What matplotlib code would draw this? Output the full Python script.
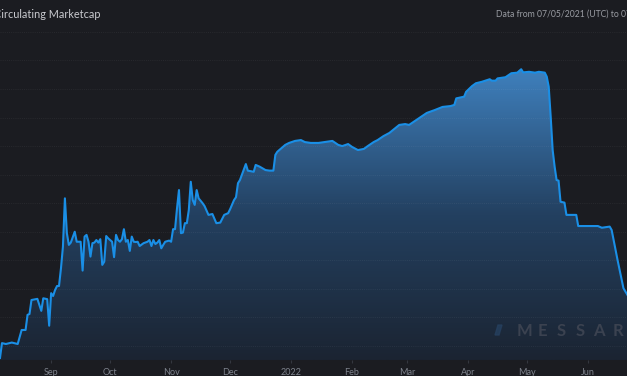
import numpy as np
import pandas as pd
import matplotlib
matplotlib.use("Agg")
import matplotlib.pyplot as plt
import matplotlib.dates as mdates
from matplotlib.colors import LinearSegmentedColormap
from matplotlib.patches import Polygon

# circulating marketcap ($M), sampled days after the first visible date
start = pd.Timestamp("2021-08-06")
days = [0, 1, 3, 6, 9, 11, 13, 14, 15, 16, 19, 21, 22, 24, 25, 26, 27, 28, 29, 30,
        31, 32, 33, 34, 35, 36, 38, 39, 41, 42, 43, 44, 45, 46, 47, 48, 49, 50, 51, 52,
        53, 54, 55, 57, 58, 59, 60, 61, 62, 63, 64, 65, 66, 67, 68, 69, 70, 71, 73, 75,
        76, 77, 78, 79, 80, 81, 82, 83, 84, 86, 87, 88, 89, 90, 91, 92, 93, 94, 95, 96,
        97, 98, 99, 100, 101, 103, 104, 106, 108, 110, 112, 114, 116, 117, 119, 120, 121, 122, 125, 126,
        129, 130, 132, 135, 137, 139, 140, 141, 142, 145, 147, 150, 153, 155, 158, 162, 165, 169, 172, 174,
        177, 179, 182, 185, 187, 190, 192, 195, 198, 201, 203, 206, 208, 211, 214, 217, 221, 225, 229, 231,
        232, 236, 237, 240, 242, 245, 249, 250, 252, 253, 257, 260, 263, 265, 266, 269, 272, 274, 277, 278,
        279, 280, 281, 282, 283, 284, 285, 287, 288, 293, 294, 304, 306, 310, 311, 314, 317, 319]
mcap = [5.8, 11.0, 10.7, 11.2, 10.7, 15.6, 15.6, 20.9, 21.2, 26.1, 26.5, 22.3, 26.7, 26.4, 17.1, 28.5, 27.5, 29.6, 31.0, 31.0,
        37.2, 44.8, 61.7, 49.5, 45.4, 46.2, 50.0, 46.5, 46.5, 36.4, 48.3, 48.9, 46.5, 41.3, 46.0, 46.2, 47.1, 46.2, 47.4, 38.4,
        39.5, 48.5, 47.7, 46.5, 41.1, 48.9, 47.1, 46.5, 47.4, 50.9, 46.5, 47.1, 43.3, 48.3, 46.5, 46.4, 46.5, 45.0, 46.0, 46.5,
        47.1, 45.0, 47.1, 45.7, 46.2, 47.1, 44.2, 45.4, 46.5, 46.9, 46.5, 50.9, 50.9, 58.2, 64.6, 49.5, 49.7, 53.0, 53.0, 57.6,
        67.5, 61.1, 59.4, 64.6, 61.7, 60.0, 59.0, 55.9, 56.2, 53.0, 53.2, 55.9, 56.5, 57.9, 61.1, 62.1, 67.0, 68.1, 73.7, 71.4,
        71.0, 73.4, 72.8, 71.6, 71.4, 71.4, 76.9, 78.0, 78.6, 80.4, 81.1, 81.8, 82.1, 81.4, 81.1, 81.1, 81.4, 81.8, 80.4, 80.0,
        80.7, 79.7, 78.6, 79.0, 80.0, 81.4, 82.1, 83.5, 84.6, 86.3, 87.4, 87.7, 87.4, 88.8, 90.2, 91.6, 92.6, 93.7, 94.0, 94.4,
        96.7, 97.3, 99.0, 101.0, 102.0, 102.5, 103.4, 102.9, 102.9, 103.7, 104.1, 105.5, 105.7, 106.9, 105.8, 106.0, 105.7, 106.0, 105.7, 104.3,
        100.8, 90.3, 78.6, 72.8, 68.1, 67.9, 60.5, 60.2, 55.9, 55.9, 52.0, 52.0, 51.4, 51.8, 50.6, 40.1, 30.2, 27.9]

month_ticks = ["2021-09-01", "2021-10-01", "2021-11-01", "2021-12-01", "2022-01-01",
               "2022-02-01", "2022-03-01", "2022-04-01", "2022-05-01", "2022-06-01"]
month_labels = ["Sep", "Oct", "Nov", "Dec", "2022", "Feb", "Mar", "Apr", "May", "Jun"]

bg = "#1b1c21"
fig = plt.figure(figsize=(6.27, 3.76), dpi=100, facecolor=bg)
ax = fig.add_axes([0, 0.0426, 1, 0.891])
ax.set_facecolor(bg)

x = mdates.date2num(start + pd.to_timedelta(days, unit="D"))
y = np.array(mcap)
x0 = mdates.date2num(start)
x1 = x0 + 318.8
ymin, ymax = 5.1, 122.4

# gradient area under the line
poly = ax.fill_between(x, y, ymin, color="none", lw=0)
cmap = LinearSegmentedColormap.from_list("area", ["#1b2432", "#234060", "#3f80bd"])
grad = np.linspace(0, 1, 256).reshape(-1, 1)
im = ax.imshow(grad, extent=[x0, x1, ymin, y.max()], origin="lower",
               aspect="auto", cmap=cmap, zorder=1)
im.set_clip_path(poly.get_paths()[0], transform=ax.transData)

for gy in np.arange(10, 121, 10):
    ax.axhline(gy, color="#ffffff", alpha=0.06, lw=0.7, ls=(0, (1, 1.2)), zorder=2)

ax.plot(x, y, color="#1a8fe6", lw=1.5, zorder=3)

ax.set_xlim(x0, x1)
ax.set_ylim(ymin, ymax)
ax.set_yticks([])
ax.set_xticks(mdates.date2num(pd.to_datetime(month_ticks)))
ax.set_xticklabels(month_labels, fontsize=6.5, color="#7d828c", family="Lato")
ax.tick_params(axis="x", length=2.5, color="#34373f", pad=3)
for s in ax.spines.values():
    s.set_visible(False)

fig.text(-0.0095, 0.962, "Circulating Marketcap", color="#c9cacf", fontsize=7.8,
         family="Lato", va="center")
fig.text(0.791, 0.962, "Data from 07/05/2021 (UTC) to 07/05/2022 (UTC)", color="#9a9ca3",
         fontsize=6.2, family="Lato", va="center")

# watermark
fig.patches.append(Polygon([(495, 41), (499, 41), (502, 51), (498, 51)], closed=True,
                           transform=None, color="#26405f", alpha=0.8))
for i, ch in enumerate("MESSARI"):
    fig.text((524 + i * 18.7) / 627, 1 - 331 / 376, ch, color="#3b4250", fontsize=12,
             fontweight="bold", family="Lato", ha="center", va="center")

fig.savefig("out.png", dpi=100, facecolor=bg)
